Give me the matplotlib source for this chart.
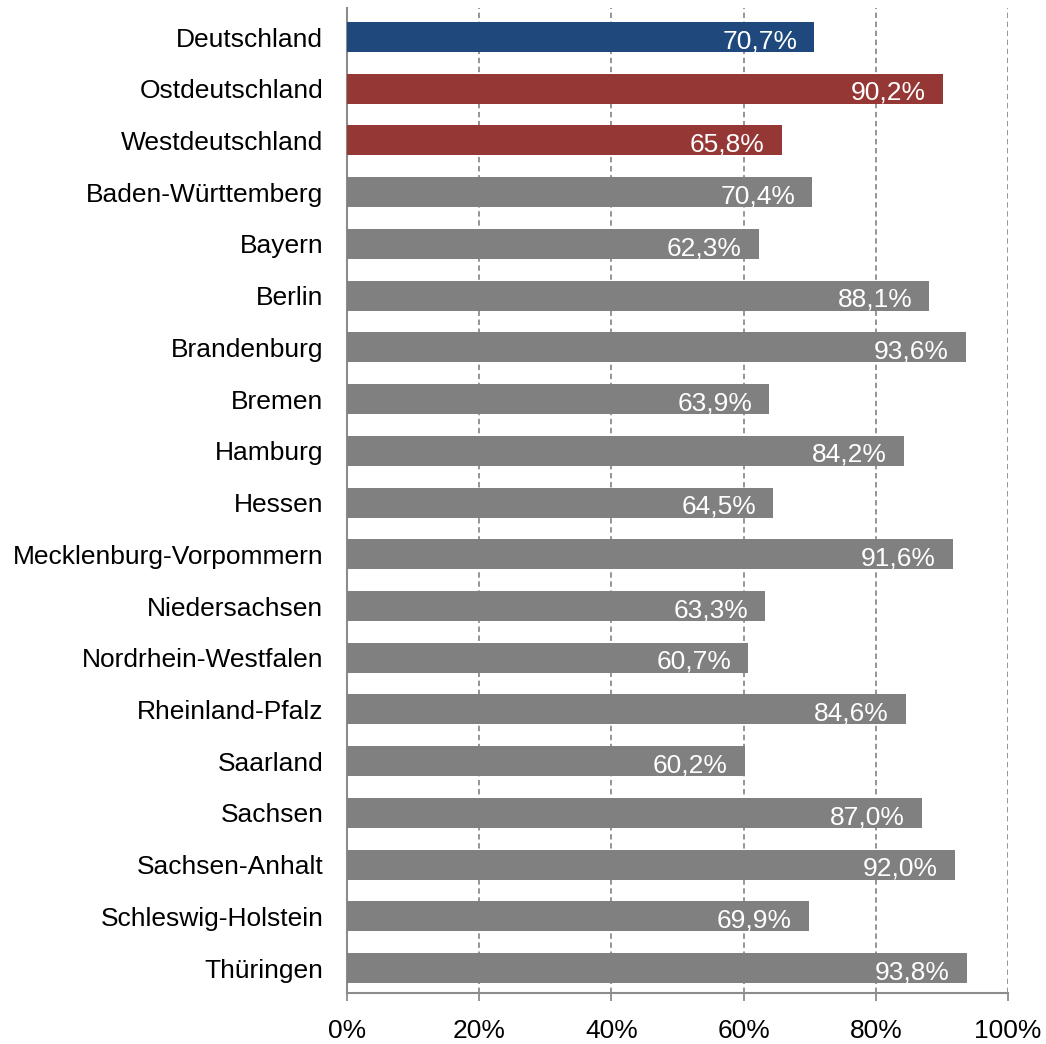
import matplotlib.pyplot as plt
import numpy as np

plt.rcParams['font.family'] = ['Liberation Sans', 'DejaVu Sans']

# data
regions = ['Deutschland', 'Ostdeutschland', 'Westdeutschland', 'Baden-Württemberg',
           'Bayern', 'Berlin', 'Brandenburg', 'Bremen', 'Hamburg', 'Hessen',
           'Mecklenburg-Vorpommern', 'Niedersachsen', 'Nordrhein-Westfalen',
           'Rheinland-Pfalz', 'Saarland', 'Sachsen', 'Sachsen-Anhalt',
           'Schleswig-Holstein', 'Thüringen']
shares = [70.7, 90.2, 65.8, 70.4, 62.3, 88.1, 93.6, 63.9, 84.2, 64.5,
          91.6, 63.3, 60.7, 84.6, 60.2, 87.0, 92.0, 69.9, 93.8]
x_ticks = [0, 20, 40, 60, 80, 100]

colors = ['#1F497D', '#953735', '#953735'] + ['#808080'] * (len(regions) - 3)

fig = plt.figure(figsize=(10.46, 10.44), dpi=100)
ax = fig.add_axes([0.3317, 0.0489, 0.632, 0.9434])

y = np.arange(len(regions))
ax.barh(y, shares, height=0.58, color=colors, zorder=3)

for yi, v in zip(y, shares):
    ax.text(v - 2.6, yi + 0.08, f'{v:.1f}%'.replace('.', ','), color='white',
            ha='right', va='center', fontsize=19, zorder=4)

ax.set_xlim(0, 100)
ax.set_ylim(18.48, -0.56)
ax.set_yticks(y)
ax.set_yticklabels(regions, fontsize=19)
ax.set_xticks(x_ticks)
ax.set_xticklabels([f'{t}%' for t in x_ticks], fontsize=19)

ax.xaxis.grid(True, linestyle=(0, (3, 2)), color='#8c8c8c', linewidth=1.3, zorder=0)
ax.tick_params(axis='y', length=0, pad=17)
ax.tick_params(axis='x', length=6, width=1.3, color='#8c8c8c', pad=13, direction='out')

for s in ['top', 'right']:
    ax.spines[s].set_visible(False)
for s in ['left', 'bottom']:
    ax.spines[s].set_color('#8c8c8c')
    ax.spines[s].set_linewidth(1.5)

fig.savefig('out.png', dpi=100)
